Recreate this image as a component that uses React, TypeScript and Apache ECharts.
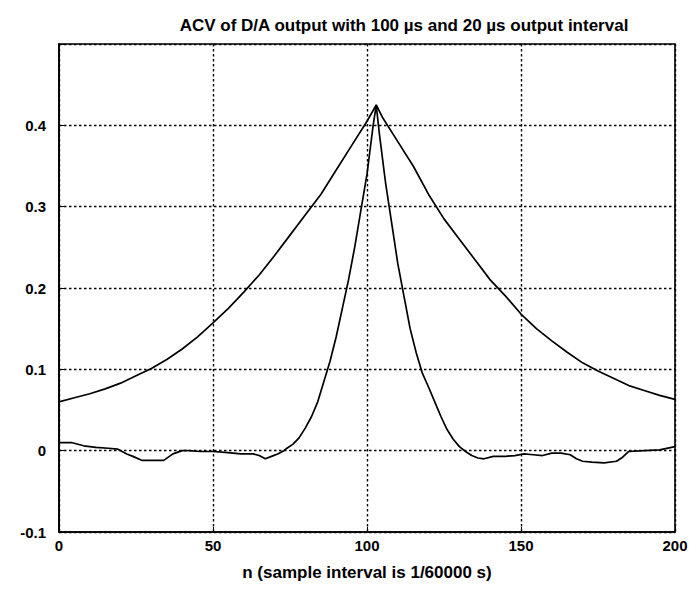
import React, { useEffect, useRef } from "react";
import * as echarts from "echarts";

const titleText = "ACV of D/A output with 100 µs and 20 µs output interval";
const xAxisName = "n (sample interval is 1/60000 s)";
const xTicks = [0, 50, 100, 150, 200];
const yTicks = [-0.1, 0, 0.1, 0.2, 0.3, 0.4];

// 100 µs output interval (wide curve)
const wideN = [0, 5, 10, 15, 20, 25, 30, 35, 40, 45, 50, 55, 60, 65, 70, 75, 80, 85, 90, 95, 100, 103,
  105, 110, 115, 120, 125, 130, 135, 140, 145, 150, 155, 160, 165, 170, 175, 180, 185, 190, 195, 200];
const wideV = [0.06, 0.065, 0.07, 0.076, 0.083, 0.092, 0.101, 0.112, 0.125, 0.14, 0.157, 0.175, 0.195, 0.216, 0.24, 0.265, 0.29, 0.315, 0.345, 0.375, 0.405, 0.425,
  0.41, 0.38, 0.35, 0.315, 0.285, 0.26, 0.235, 0.21, 0.19, 0.168, 0.15, 0.135, 0.121, 0.108, 0.098, 0.089, 0.08, 0.074, 0.068, 0.063];

// 20 µs output interval (narrow curve)
const narrowN = [0, 4, 8, 12, 16, 19, 22, 24, 27, 30, 34, 37, 40, 42, 46, 50, 54, 59, 63, 65, 67, 69, 71, 73, 74, 76, 78, 80, 82, 84, 86, 88, 90, 92, 94, 96, 98, 100, 101, 102, 103,
  104, 106, 108, 110, 112, 114, 116, 118, 120, 122, 124, 126, 128, 130, 132, 134, 136, 138, 141, 145, 148, 151, 154, 157, 160, 163, 166, 168, 170, 173, 177, 181, 183, 185, 190, 195, 200];
const narrowV = [0.01, 0.01, 0.006, 0.004, 0.003, 0.002, -0.004, -0.007, -0.012, -0.012, -0.012, -0.004, 0, 0, -0.001, -0.001, -0.002, -0.004, -0.004, -0.006, -0.01, -0.007, -0.004, 0, 0.003, 0.008, 0.016, 0.028, 0.042, 0.06, 0.085, 0.11, 0.14, 0.175, 0.21, 0.25, 0.295, 0.34, 0.37, 0.4, 0.425,
  0.39, 0.33, 0.28, 0.23, 0.19, 0.15, 0.12, 0.095, 0.078, 0.06, 0.042, 0.026, 0.014, 0.005, -0.001, -0.006, -0.009, -0.01, -0.007, -0.007, -0.006, -0.004, -0.005, -0.006, -0.003, -0.003, -0.005, -0.01, -0.013, -0.014, -0.015, -0.013, -0.008, -0.001, 0, 0.001, 0.005];

const FONT = "Liberation Sans";

export default function App() {
  const ref = useRef<HTMLDivElement>(null);
  useEffect(() => {
    if (!ref.current) return;
    const chart = echarts.init(ref.current, undefined, { renderer: "svg" });
    const grid = { color: "#000", width: 1.4, type: [2.5, 2.5] as number[] };
    chart.setOption({
      animation: false,
      backgroundColor: "#fff",
      title: {
        text: titleText,
        left: 399,
        textAlign: "center",
        top: 12,
        textStyle: { fontFamily: FONT, fontWeight: "bold", fontSize: 17, color: "#000" },
      },
      grid: {
        left: 59, right: 25, top: 44, bottom: 63,
        show: true, borderColor: "#000", borderWidth: 1.6, backgroundColor: "transparent",
      },
      xAxis: {
        type: "value",
        min: xTicks[0],
        max: xTicks[xTicks.length - 1],
        interval: 50,
        name: xAxisName,
        nameLocation: "middle",
        nameGap: 32,
        nameTextStyle: { fontFamily: FONT, fontWeight: "bold", fontSize: 17, color: "#000" },
        axisLine: { show: true, onZero: false, lineStyle: { color: "#000", width: 1.6 } },
        axisTick: { show: true, inside: true, length: 5, lineStyle: { color: "#000" } },
        axisLabel: { fontFamily: FONT, fontWeight: "bold", fontSize: 15, color: "#000", margin: 6 },
        splitLine: { show: true, lineStyle: grid },
      },
      yAxis: {
        type: "value",
        min: yTicks[0],
        max: 0.5,
        interval: 0.1,
        axisLine: { show: true, onZero: false, lineStyle: { color: "#000", width: 1.6 } },
        axisTick: { show: true, inside: true, length: 5, lineStyle: { color: "#000" } },
        axisLabel: {
          fontFamily: FONT, fontWeight: "bold", fontSize: 15, color: "#000", margin: 13,
          formatter: (v: number) => {
            const r = Math.round(v * 10) / 10;
            if (r > 0.45) return "";
            return r === 0 ? "0" : String(r);
          },
        },
        splitLine: { show: true, lineStyle: grid },
      },
      series: [
        {
          type: "line",
          data: wideN.map((n, i) => [n, wideV[i]]),
          showSymbol: false,
          lineStyle: { color: "#000", width: 1.7 },
          z: 5,
        },
        {
          type: "line",
          data: narrowN.map((n, i) => [n, narrowV[i]]),
          showSymbol: false,
          lineStyle: { color: "#000", width: 1.7 },
          z: 5,
        },
      ],
    });
    return () => chart.dispose();
  }, []);
  return <div ref={ref} style={{ width: 700, height: 595, position: "absolute", left: 0, top: 0 }} />;
}
